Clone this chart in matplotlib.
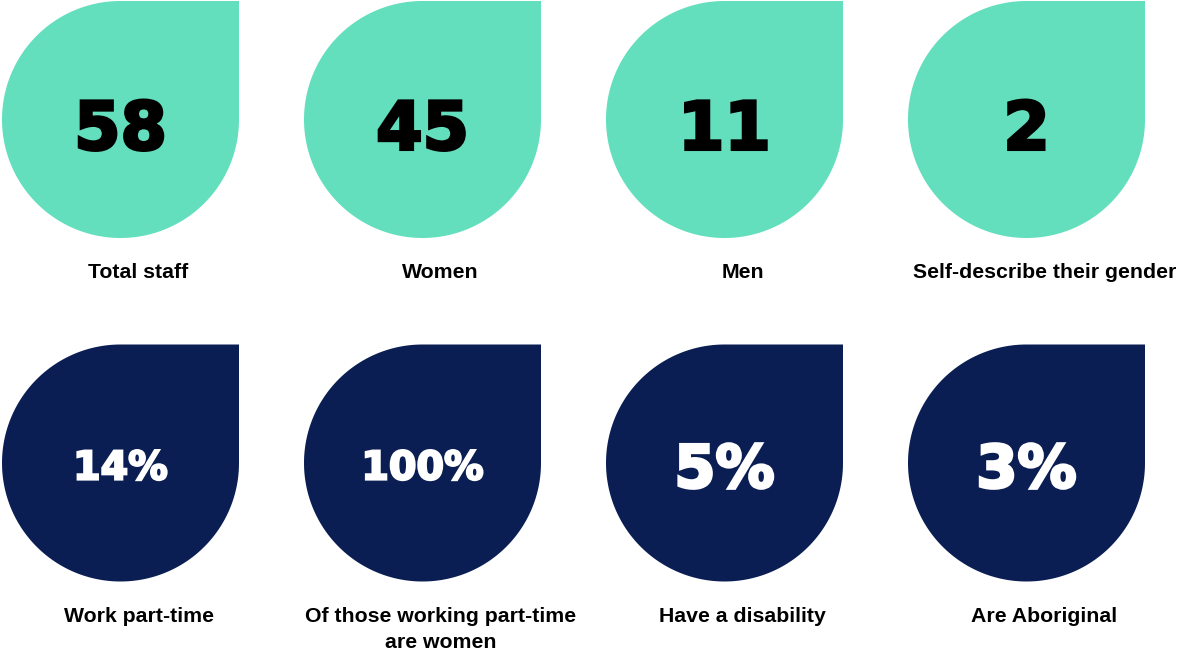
import numpy as np
import matplotlib
matplotlib.use('Agg')
import matplotlib.pyplot as plt
import matplotlib.patheffects as pe
from matplotlib.patches import Polygon

# Data
top_values = ['58', '45', '11', '2']
top_labels = ['Total staff', 'Women', 'Men', 'Self-describe their gender']
bottom_values = ['14%', '100%', '5%', '3%']
bottom_labels = ['Work part-time', 'Of those working part-time\nare women',
                 'Have a disability', 'Are Aboriginal']

# Style
teal = '#63dfbd'
navy = '#0a1e54'
W, H = 1177, 653
col_x = [120.5, 422.5, 724.5, 1026.5]
row_y = [119.5, 463.0]
radius = 118.5
label_dx = 18
top_sizes = [48, 48, 48, 48]
bottom_sizes = [28.5, 28.5, 42.5, 42.5]
bottom_strokes = [1.6, 1.6, 2.2, 2.2]
top_base = [149.5, 149.5, 149.5, 149.5]
bottom_base = [479.5, 479.5, 487.5, 487.5]
line_gap = 26

fig = plt.figure(figsize=(W / 100, H / 100), dpi=100)
ax = fig.add_axes([0, 0, 1, 1])
ax.set_xlim(0, W)
ax.set_ylim(H, 0)
ax.axis('off')


def drop(cx, cy, r, color):
    # circle with a square top-right corner (y axis points down)
    t = np.linspace(0, 1.5 * np.pi, 200)
    xs = cx + r * np.cos(t)
    ys = cy + r * np.sin(t)
    pts = np.column_stack([xs, ys])
    pts = np.vstack([pts, [cx + r, cy - r], [cx + r, cy]])
    ax.add_patch(Polygon(pts, closed=True, facecolor=color, edgecolor='none'))


def heavy(color, lw=2.2):
    # thicken the glyphs a bit to look like a black-weight display font
    return [pe.withStroke(linewidth=lw, foreground=color, joinstyle='miter')]


num_font = dict(family=['DejaVu Sans'], fontweight='bold')
lab_font = dict(family=['Liberation Sans', 'DejaVu Sans'], fontweight='bold')

for i in range(4):
    cx = col_x[i]
    drop(cx, row_y[0], radius, teal)
    ax.text(cx, top_base[i], top_values[i], ha='center', va='baseline',
            fontsize=top_sizes[i], color='black', path_effects=heavy('black'),
            **num_font)
    ax.text(cx + label_dx, 277.5, top_labels[i], ha='center', va='baseline',
            fontsize=15.3, color='black', **lab_font)

    drop(cx, row_y[1], radius, navy)
    ax.text(cx, bottom_base[i], bottom_values[i], ha='center', va='baseline',
            fontsize=bottom_sizes[i], color='white',
            path_effects=heavy('white', bottom_strokes[i]), **num_font)
    for k, line in enumerate(bottom_labels[i].split('\n')):
        ax.text(cx + label_dx, 621.5 + k * line_gap, line, ha='center',
                va='baseline', fontsize=15.3, color='black', **lab_font)

fig.savefig('out.png', dpi=100, facecolor='white')
